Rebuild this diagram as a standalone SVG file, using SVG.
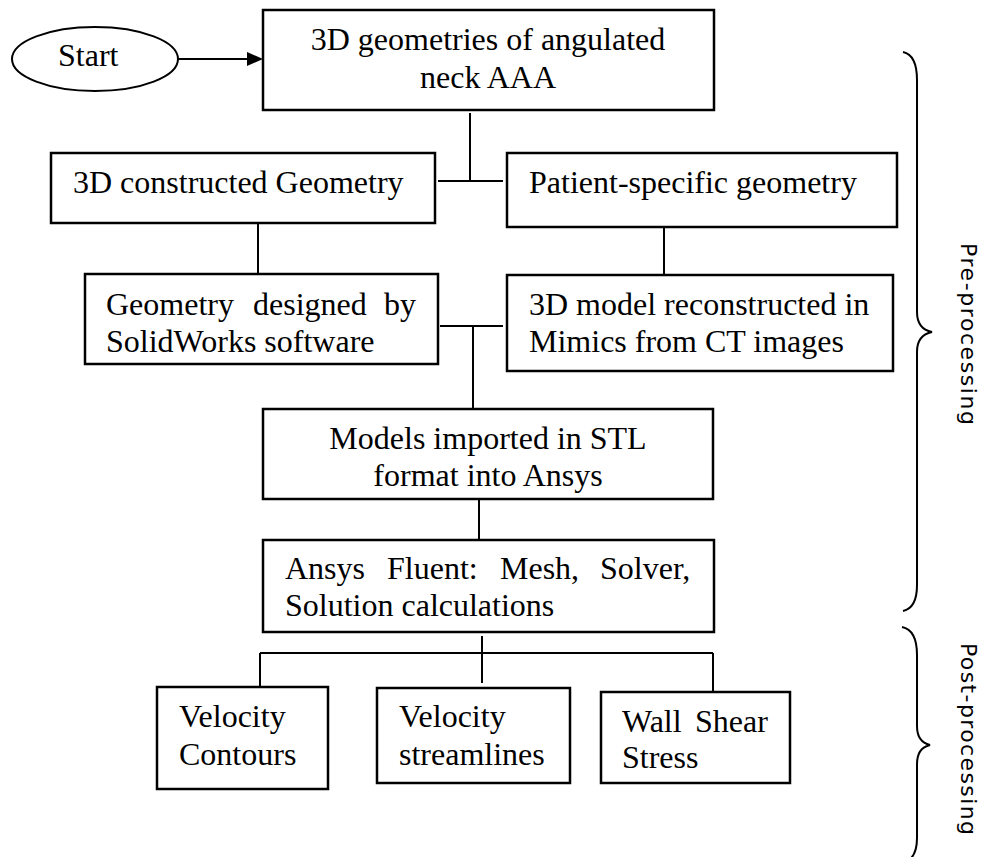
<svg xmlns="http://www.w3.org/2000/svg" width="986" height="857" viewBox="0 0 986 857">
<style>
.box{fill:#fff;stroke:#000;stroke-width:2.5}
.t{font-family:"Liberation Serif","Times New Roman",serif;font-size:32px;fill:#000}
.c{text-anchor:middle}
.ln{stroke:#000;stroke-width:2;fill:none}
.br{stroke:#000;stroke-width:2;fill:none}
.side{font-family:"DejaVu Sans","Liberation Sans",sans-serif;font-size:22px;fill:#000}
</style>
<g id="connectors">
<line class="ln" x1="178" y1="59" x2="250" y2="59"/>
<polygon points="263,59 247,52 247,66" fill="#000"/>
<line class="ln" x1="470" y1="113" x2="470" y2="181"/>
<line class="ln" x1="438" y1="181" x2="503" y2="181"/>
<line class="ln" x1="258" y1="223" x2="258" y2="274"/>
<line class="ln" x1="664" y1="227" x2="664" y2="275"/>
<line class="ln" x1="440" y1="326" x2="503" y2="326"/>
<line class="ln" x1="473" y1="326" x2="473" y2="409"/>
<line class="ln" x1="479" y1="499" x2="479" y2="539"/>
<line class="ln" x1="482" y1="636" x2="482" y2="683"/>
<line class="ln" x1="260" y1="653" x2="713" y2="653"/>
<line class="ln" x1="260" y1="653" x2="260" y2="688"/>
<line class="ln" x1="713" y1="653" x2="713" y2="692"/>
</g>
<g id="start">
<ellipse cx="95" cy="59" rx="83" ry="32" fill="#fff" stroke="#000" stroke-width="2"/>
<text class="t" x="58" y="66">Start</text>
</g>
<g id="n-top">
<rect class="box" x="263" y="10" width="451" height="100"/>
<text class="t c" x="488" y="50">3D geometries of angulated</text>
<text class="t c" x="488" y="88">neck AAA</text>
</g>
<g id="n-constructed">
<rect class="box" x="51" y="153" width="384" height="70"/>
<text class="t" x="73" y="193">3D constructed Geometry</text>
</g>
<g id="n-patient">
<rect class="box" x="507" y="153" width="390" height="74"/>
<text class="t" x="529" y="193">Patient-specific geometry</text>
</g>
<g id="n-solidworks">
<rect class="box" x="85" y="274" width="353" height="90"/>
<text class="t" y="315"><tspan x="106">Geometry</tspan> <tspan x="253">designed</tspan> <tspan x="384">by</tspan></text>
<text class="t" x="106" y="352">SolidWorks software</text>
</g>
<g id="n-mimics">
<rect class="box" x="507" y="275" width="386" height="96"/>
<text class="t" x="529" y="315">3D model reconstructed in</text>
<text class="t" x="529" y="352">Mimics from CT images</text>
</g>
<g id="n-stl">
<rect class="box" x="263" y="409" width="450" height="90"/>
<text class="t c" x="488" y="449">Models imported in STL</text>
<text class="t c" x="488" y="486">format into Ansys</text>
</g>
<g id="n-fluent">
<rect class="box" x="263" y="540" width="451" height="92"/>
<text class="t" y="579"><tspan x="285">Ansys</tspan> <tspan x="387">Fluent:</tspan> <tspan x="500">Mesh,</tspan> <tspan x="600">Solver,</tspan></text>
<text class="t" x="285" y="616">Solution calculations</text>
</g>
<g id="n-contours">
<rect class="box" x="157" y="687" width="171" height="102"/>
<text class="t" x="179" y="727">Velocity</text>
<text class="t" x="179" y="765">Contours</text>
</g>
<g id="n-streamlines">
<rect class="box" x="377" y="688" width="193" height="95"/>
<text class="t" x="399" y="727">Velocity</text>
<text class="t" x="399" y="765">streamlines</text>
</g>
<g id="n-wss">
<rect class="box" x="601" y="692" width="189" height="91"/>
<text class="t" y="732"><tspan x="622">Wall</tspan> <tspan x="695">Shear</tspan></text>
<text class="t" x="622" y="768">Stress</text>
</g>
<g id="pre-processing">
<path class="br" d="M903,52 Q917,55 917,80 L917,312 Q917,329 932,332 Q917,335 917,352 L917,585 Q917,608 903,611"/>
<text class="side" transform="translate(961,243) rotate(90)" textLength="182" lengthAdjust="spacing">Pre-processing</text>
</g>
<g id="post-processing">
<path class="br" d="M902,627 Q917,630 917,655 L917,726 Q917,742 930,745 Q917,748 917,764 L917,838 Q917,860 902,863"/>
<text class="side" transform="translate(961,643) rotate(90)" textLength="192" lengthAdjust="spacing">Post-processing</text>
</g>
</svg>
